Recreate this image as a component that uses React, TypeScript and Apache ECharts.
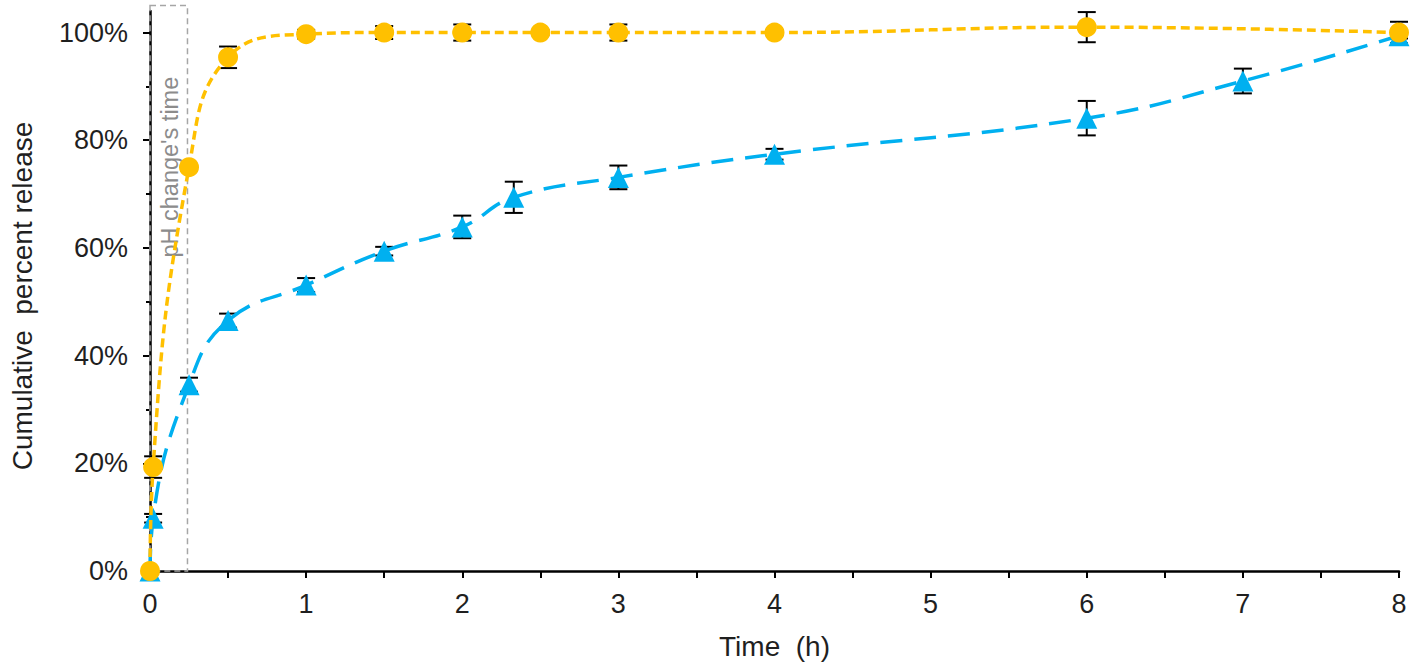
import React, { useEffect, useRef } from "react";
import * as echarts from "echarts";

// ---- data ----
const timeYellow = [0, 0.02, 0.25, 0.5, 1, 1.5, 2, 2.5, 3, 4, 6, 8];
const releaseYellow = [0, 19.3, 75.0, 95.4, 99.7, 100, 100, 100, 100, 100, 101.0, 100];
const errYellow = [0, 2.0, 0.6, 2.0, 0.8, 1.2, 1.5, 0.5, 1.5, 0.5, 2.8, 2.0];

const timeBlue = [0, 0.02, 0.25, 0.5, 1, 1.5, 2, 2.33, 3, 4, 6, 7, 8];
const releaseBlue = [0, 9.8, 34.6, 46.5, 53.1, 59.4, 63.9, 69.4, 73.1, 77.4, 84.1, 91.0, 99.4];
const errBlue = [0, 0.8, 1.3, 1.3, 1.3, 0.8, 2.1, 2.9, 2.2, 1.0, 3.2, 2.3, 0.5];

const xTicks = [0, 1, 2, 3, 4, 5, 6, 7, 8];
const yMajorTicks = [0, 20, 40, 60, 80, 100];
const yMinorTicks = [10, 30, 50, 70, 90];
const phChangeTime = 0.24;
const phBoxTop = 105;
const phLabel = "pH change's time";

const FONT = "'Liberation Sans', Arial, sans-serif";
const YELLOW = "#FFC000";
const BLUE = "#00B0F0";
const TEXT = "#1f1f1f";

function errorData(t: number[], v: number[], e: number[]) {
  return t.map((x, i) => [x, v[i] - e[i], v[i] + e[i]]);
}

function renderError(params: any, api: any) {
  const x = api.value(0);
  const lo = api.coord([x, api.value(1)]);
  const hi = api.coord([x, api.value(2)]);
  const hw = 9;
  const style = { stroke: "#000", lineWidth: 2 };
  return {
    type: "group",
    children: [
      { type: "line", shape: { x1: lo[0], y1: lo[1], x2: hi[0], y2: hi[1] }, style },
      { type: "line", shape: { x1: hi[0] - hw, y1: hi[1], x2: hi[0] + hw, y2: hi[1] }, style },
      { type: "line", shape: { x1: lo[0] - hw, y1: lo[1], x2: lo[0] + hw, y2: lo[1] }, style },
    ],
  };
}

export default function App() {
  const ref = useRef<HTMLDivElement>(null);
  useEffect(() => {
    if (!ref.current) return;
    const chart = echarts.init(ref.current, null, { renderer: "svg" });
    const axisLabelStyle = { fontSize: 27, color: TEXT, fontFamily: FONT };
    chart.setOption({
      animation: false,
      backgroundColor: "#fff",
      grid: { left: 150, right: 15, top: 11, bottom: 98, containLabel: false },
      xAxis: {
        type: "value",
        min: 0,
        max: 8,
        interval: 1,
        name: "Time  (h)",
        nameLocation: "middle",
        nameGap: 61,
        nameTextStyle: { fontSize: 28, color: TEXT, fontFamily: FONT },
        axisLine: { show: true, onZero: false, lineStyle: { color: "#000", width: 2.5 } },
        axisTick: { show: true, length: 7, lineStyle: { color: "#000", width: 2 }, customValues: xTicks },
        minorTick: { show: true, splitNumber: 2, length: 7, lineStyle: { color: "#000", width: 2 } },
        axisLabel: { ...axisLabelStyle, margin: 19, customValues: xTicks },
        splitLine: { show: false },
      },
      yAxis: [
        {
          type: "value",
          min: 0,
          max: 104,
          interval: 20,
          name: "Cumulative  percent release",
          nameLocation: "middle",
          nameGap: 114,
          nameTextStyle: { fontSize: 28, color: TEXT, fontFamily: FONT, padding: [0, 10, 0, 0] },
          axisLine: { show: true, onZero: false, lineStyle: { color: "#000", width: 2.5 } },
          axisTick: { show: true, length: 7, lineStyle: { color: "#000", width: 2 }, customValues: yMajorTicks },
          axisLabel: { ...axisLabelStyle, margin: 22, customValues: yMajorTicks, formatter: (v: number) => v + "%" },
          splitLine: { show: false },
        },
        {
          type: "value",
          min: 0,
          max: 104,
          interval: 20,
          position: "left",
          axisLine: { show: false },
          axisTick: { show: true, length: 4, lineStyle: { color: "#000", width: 2 }, customValues: yMinorTicks },
          axisLabel: { show: false },
          splitLine: { show: false },
        },
      ],
      series: [
        {
          type: "custom",
          name: "phBox",
          clip: false,
          silent: true,
          z: 1,
          data: [[0, phBoxTop, phChangeTime]],
          renderItem: (params: any, api: any) => {
            const tl = api.coord([0, api.value(1)]);
            const br = api.coord([api.value(2), 0]);
            const mid = api.coord([api.value(2) / 2, 75.0]);
            return {
              type: "group",
              children: [
                {
                  type: "rect",
                  shape: { x: tl[0], y: tl[1], width: br[0] - tl[0], height: br[1] - tl[1] },
                  style: { fill: "none", stroke: "#a6a6a6", lineWidth: 1.5, lineDash: [6, 4] },
                },
                {
                  type: "text",
                  x: mid[0] + 1,
                  y: mid[1],
                  rotation: Math.PI / 2,
                  style: {
                    text: phLabel,
                    fill: "#8c8c8c",
                    fontSize: 23.5,
                    fontFamily: FONT,
                    align: "center",
                    verticalAlign: "middle",
                  },
                },
              ],
            };
          },
        },
        {
          type: "custom",
          name: "errBlue",
          z: 2,
          clip: false,
          data: errorData(timeBlue, releaseBlue, errBlue),
          renderItem: renderError,
        },
        {
          type: "custom",
          name: "errYellow",
          z: 2,
          clip: false,
          data: errorData(timeYellow, releaseYellow, errYellow),
          renderItem: renderError,
        },
        {
          type: "line",
          name: "blue",
          z: 3,
          data: timeBlue.map((t, i) => [t, releaseBlue[i]]),
          smooth: 0.45,
          symbol: "triangle",
          symbolSize: 21,
          itemStyle: { color: BLUE },
          lineStyle: { color: BLUE, width: 3.5, type: [22, 12] },
        },
        {
          type: "line",
          name: "yellow",
          z: 4,
          data: timeYellow.map((t, i) => [t, releaseYellow[i]]),
          smooth: 0.45,
          symbol: "circle",
          symbolSize: 20,
          itemStyle: { color: YELLOW },
          lineStyle: { color: YELLOW, width: 3.5, type: [9, 5] },
        },
      ],
    });
    return () => chart.dispose();
  }, []);
  return (
    <div
      ref={ref}
      style={{ position: "fixed", left: 0, top: 0, width: 1414, height: 669, background: "#fff" }}
    />
  );
}
